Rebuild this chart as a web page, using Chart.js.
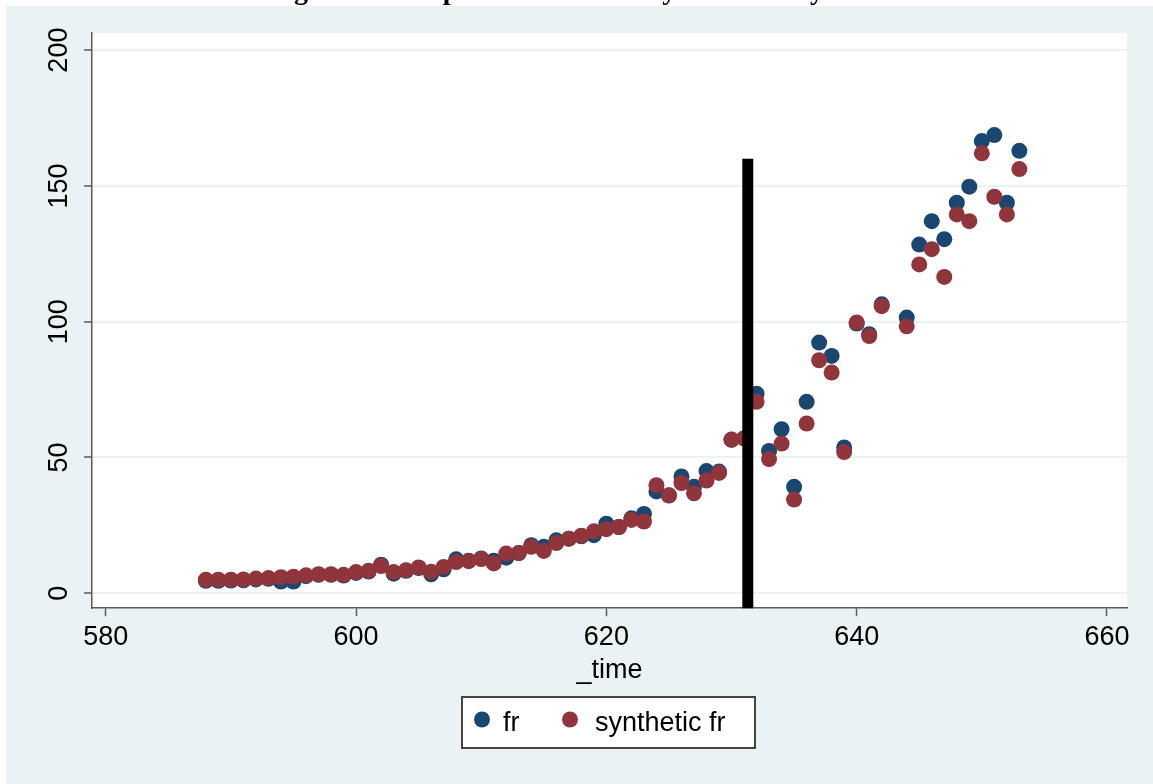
<!DOCTYPE html>
<html>
<head>
<meta charset="utf-8">
<script src="https://cdn.jsdelivr.net/npm/chart.js@4.4.1/dist/chart.umd.min.js"></script>
<style>
  html, body { margin: 0; padding: 0; background: #ffffff; }
  canvas { display: block; }
</style>
</head>
<body>
<canvas id="synthChart" width="1153" height="784"></canvas>
<script>
// years (_time) and the two series
const times = [588, 589, 590, 591, 592, 593, 594, 595, 596, 597, 598, 599, 600, 601, 602, 603, 604, 605, 606, 607,
    608, 609, 610, 611, 612, 613, 614, 615, 616, 617, 618, 619, 620, 621, 622, 623, 624, 625, 626, 627,
    628, 629, 630, 631, 632, 633, 634, 635, 636, 637, 638, 639, 640, 641, 642, 643, 644, 645, 646, 647,
    648, 649, 650, 651, 652, 653]
const frValues = [4.6, 4.6, 4.7, 4.8, 5.1, 5.3, 4.3, 4.3, 6.3, 6.8, 6.8, 6.5, 7.5, 8.0, 10.5, 7.2, 8.3, 9.3, 7.0, 8.8,
    12.5, 12.0, 12.8, 12.0, 13.1, 14.8, 17.7, 17.1, 19.5, 20.1, 21.0, 21.4, 25.6, 24.4, 27.6, 29.2, 37.5, 36.0, 43.0, 39.2,
    45.0, 44.8, 56.5, 57.0, 73.5, 52.4, 60.4, 39.2, 70.5, 92.3, 87.4, 53.7, 99.3, 95.4, 106.4, null, 101.5, 128.4, 137.0, 130.4,
    143.8, 149.7, 166.5, 168.7, 143.8, 162.9]
const synthValues = [5.0, 5.0, 5.0, 5.1, 5.4, 5.6, 5.9, 6.1, 6.6, 7.0, 7.0, 6.8, 7.8, 8.3, 10.0, 7.8, 8.5, 9.5, 7.9, 9.7,
    11.5, 11.8, 12.6, 11.0, 14.6, 14.8, 17.1, 15.6, 18.5, 20.1, 21.2, 22.8, 23.6, 24.4, 27.0, 26.4, 39.8, 36.1, 40.6, 36.8,
    41.5, 44.3, 56.6, 57.0, 70.5, 49.4, 55.1, 34.5, 62.5, 85.8, 81.3, 52.0, 99.7, 94.7, 105.7, null, 98.3, 121.1, 126.7, 116.5,
    139.5, 137.0, 162.0, 146.0, 139.5, 156.2]
const xTicks = [580, 600, 620, 640, 660]
const yTicks = [0, 50, 100, 150, 200]
const treatTime = 631.3
const treatTop = 160
const titleText = "Figure 3: Comparison of fr and synthetic fr by time"

const blue = "#1a476f"
const red = "#90353b"
const bgColor = "#eaf2f3"
const axisColor = "#5a5a5a"
const font = "'Liberation Sans', Arial, sans-serif"

const toPoints = (vals) => times.map((t, i) => { return { x: t, y: vals[i] } })

// stata-ish background, clipped title, rotated y labels and boxed legend
const stataDecor = {
    id: "stataDecor",
    beforeDraw: (chart) => {
        const ctx = chart.ctx
        const area = chart.chartArea
        ctx.save()
        ctx.fillStyle = "#ffffff"
        ctx.fillRect(0, 0, chart.width, chart.height)
        ctx.fillStyle = "#000000"
        ctx.font = "bold 28px 'Liberation Serif', serif"
        ctx.textAlign = "center"
        ctx.textBaseline = "alphabetic"
        ctx.fillText(titleText, chart.width / 2, -1)
        ctx.fillStyle = bgColor
        ctx.fillRect(6, 6, chart.width - 6, chart.height - 6)
        ctx.fillStyle = "#ffffff"
        ctx.fillRect(area.left, area.top, area.right - area.left, area.bottom - area.top)
        ctx.restore()
    },
    afterDraw: (chart) => {
        const ctx = chart.ctx
        const yScale = chart.scales.y
        ctx.save()
        ctx.fillStyle = "#000000"
        ctx.font = "27px " + font
        ctx.textAlign = "center"
        ctx.textBaseline = "middle"
        yTicks.forEach(v => {
            const py = yScale.getPixelForValue(v)
            ctx.save()
            ctx.translate(60, py)
            ctx.rotate(-Math.PI / 2)
            ctx.fillText(String(v), 0, 0)
            ctx.restore()
        })

        // legend
        const lx = 462, ly = 697, lw = 293, lh = 51
        ctx.fillStyle = "#ffffff"
        ctx.fillRect(lx, ly, lw, lh)
        ctx.strokeStyle = "#444444"
        ctx.lineWidth = 2
        ctx.strokeRect(lx, ly, lw, lh)
        const cy = ly + lh / 2
        ctx.fillStyle = blue
        ctx.beginPath()
        ctx.arc(482, cy - 3, 8, 0, Math.PI * 2)
        ctx.fill()
        ctx.fillStyle = red
        ctx.beginPath()
        ctx.arc(570, cy - 3, 8, 0, Math.PI * 2)
        ctx.fill()
        ctx.fillStyle = "#000000"
        ctx.textAlign = "left"
        ctx.fillText("fr", 503, cy + 1)
        ctx.fillText("synthetic fr", 595, cy + 1)
        ctx.restore()
    }
}

const ctx = document.getElementById("synthChart").getContext("2d")

const config = {
    type: "scatter",
    data: {
        datasets: [
            {
                label: "treatment",
                type: "line",
                data: [{ x: treatTime, y: -6 }, { x: treatTime, y: treatTop }],
                borderColor: "#000000",
                borderWidth: 11,
                pointRadius: 0,
                order: 0
            },
            {
                label: "synthetic fr",
                data: toPoints(synthValues),
                backgroundColor: red,
                borderWidth: 0,
                pointRadius: 8,
                order: 1
            },
            {
                label: "fr",
                data: toPoints(frValues),
                backgroundColor: blue,
                borderWidth: 0,
                pointRadius: 8,
                order: 2
            }
        ]
    },
    options: {
        responsive: false,
        animation: false,
        devicePixelRatio: 1,
        layout: {
            padding: { left: 84, right: 26, top: 33, bottom: 97 }
        },
        plugins: {
            legend: { display: false },
            title: { display: false },
            tooltip: { enabled: false }
        },
        scales: {
            x: {
                type: "linear",
                min: 578.9,
                max: 661.6,
                afterBuildTicks: (scale) => { scale.ticks = xTicks.map(v => ({ value: v })) },
                grid: { drawOnChartArea: false, tickLength: 8, tickColor: axisColor, tickWidth: 1.5 },
                border: { color: axisColor, width: 1.5 },
                ticks: { color: "#000000", font: { family: font, size: 27 }, padding: 5, maxRotation: 0 },
                title: { display: true, text: "_time", color: "#000000", font: { family: font, size: 27 }, padding: { top: -4, bottom: 0 } }
            },
            y: {
                type: "linear",
                min: -5.5,
                max: 206.3,
                afterBuildTicks: (scale) => { scale.ticks = yTicks.map(v => ({ value: v })) },
                grid: { color: bgColor, lineWidth: 2, tickLength: 8, tickColor: axisColor, tickWidth: 1.5 },
                border: { color: axisColor, width: 1.5 },
                ticks: { display: false }
            }
        }
    },
    plugins: [stataDecor]
}

new Chart(ctx, config)
</script>
</body>
</html>
